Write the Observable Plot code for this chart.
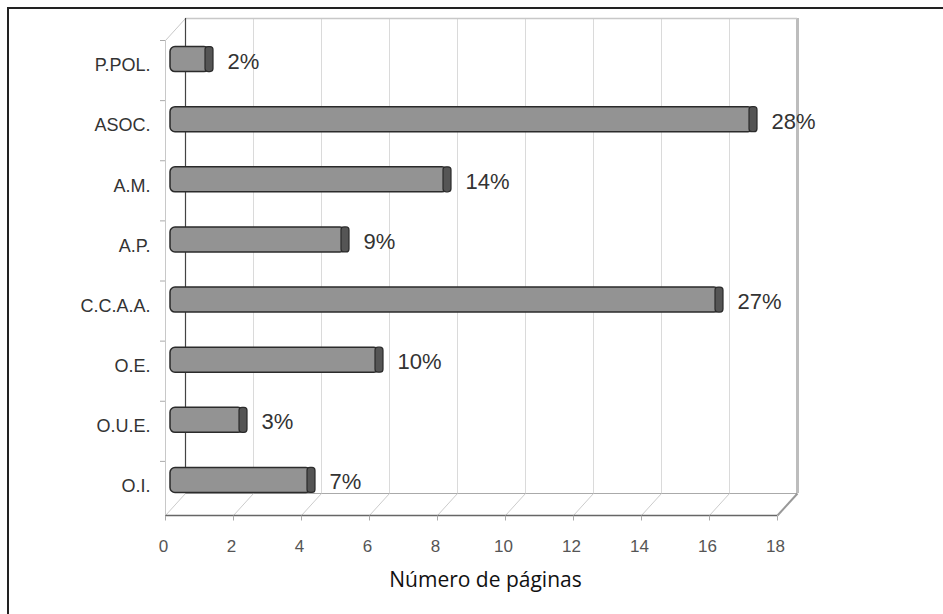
<!DOCTYPE html>
<html>
<head>
<meta charset="utf-8">
<script src="https://cdn.jsdelivr.net/npm/d3@7"></script>
<script src="https://cdn.jsdelivr.net/npm/@observablehq/plot@0.6"></script>
<style>
  html, body { margin: 0; padding: 0; background: #fff; }
  #frame { position: absolute; left: 7px; top: 7px; width: 936px; height: 607px;
           border-top: 2px solid #222; border-left: 2px solid #222; box-sizing: border-box; }
  #chart { position: absolute; left: 0; top: 0; }
</style>
</head>
<body>
<div id="frame"></div>
<div id="chart"></div>
<script>
// ---- data ----
const categories = ["P.POL.", "ASOC.", "A.M.", "A.P.", "C.C.A.A.", "O.E.", "O.U.E.", "O.I."];
const values = [1, 17, 8, 5, 16, 6, 2, 4];
const percentLabels = ["2%", "28%", "14%", "9%", "27%", "10%", "3%", "7%"];
const xTicks = [0, 2, 4, 6, 8, 10, 12, 14, 16, 18];
const xTitle = "Número de páginas";

const rows = categories.map((c, i) => ({cat: c, idx: i, value: values[i], label: percentLabels[i]}));

// layout
const W = 943, H = 614;
const xDom = [0, 18], yDom = [-0.5, 7.4];
const xRange = [175, 787], yRange = [29, 504];
const kx = (xRange[1] - xRange[0]) / (xDom[1] - xDom[0]);
const ky = (yRange[1] - yRange[0]) / (yDom[1] - yDom[0]);
const DPX = 10, DPY = 11;             // half depth in pixels
const DX = DPX / kx, DY = DPY / ky;   // half depth in data units
const half = 12.5 / ky;               // bar half thickness
const yTop = yDom[0], yFloor = yDom[1];
const boundaries = d3.range(categories.length + 1).map(i => i - 0.5).filter(v => v <= yFloor);
const font = "'Liberation Sans', Arial, sans-serif";

const chart = Plot.plot({
  width: W, height: H,
  marginLeft: xRange[0], marginRight: W - xRange[1],
  marginTop: yRange[0], marginBottom: H - yRange[1],
  x: {domain: xDom, range: xRange, axis: null},
  y: {domain: yDom, range: yRange, axis: null},
  style: {fontFamily: font, background: "transparent"},
  marks: [
    // back wall grid
    Plot.ruleX(xTicks.filter(t => t > 0 && t < 18), {x: d => d, y1: yTop, y2: yFloor, dx: DPX, dy: -DPY, stroke: "#dadada", strokeWidth: 1}),
    Plot.ruleX([xDom[1]], {x: d => d, y1: yTop, y2: yFloor, dx: DPX, dy: -DPY, stroke: "#bdbdbd", strokeWidth: 3}),
    Plot.ruleY([yTop], {y: d => d, x1: xDom[0], x2: xDom[1], dx: DPX, dy: -DPY, stroke: "#c8c8c8", strokeWidth: 1.5}),
    // floor
    Plot.ruleY([yFloor], {y: d => d, x1: xDom[0], x2: xDom[1], dx: DPX, dy: -DPY, stroke: "#aaa", strokeWidth: 1}),
    Plot.link(xTicks, {x1: d => d - DX, y1: yFloor + DY, x2: d => d + DX, y2: yFloor - DY, stroke: d => d === 18 ? "#999" : "#ccc", strokeWidth: d => d === 18 ? 2 : 1}),
    Plot.ruleY([yFloor], {y: d => d, x1: xDom[0], x2: xDom[1], dx: -DPX, dy: DPY, stroke: "#666", strokeWidth: 1.5}),
    // left wall
    Plot.ruleX([xDom[0]], {x: d => d, y1: yTop, y2: yFloor, dx: -DPX, dy: DPY, stroke: "#c8c8c8", strokeWidth: 1}),
    Plot.link([yTop], {x1: -DX, y1: d => d + DY, x2: DX, y2: d => d - DY, stroke: "#c8c8c8"}),
    Plot.ruleY(boundaries, {y: d => d + DY, x1: -DX - 5 / kx, x2: -DX, stroke: "#aaa"}),
    // x axis ticks and labels (front edge)
    Plot.link(xTicks, {x1: d => d - DX, x2: d => d - DX, y1: yFloor + DY, y2: yFloor + DY + 5 / ky, stroke: "#aaa"}),
    Plot.text(xTicks, {x: d => d, y: yFloor, text: d => String(d), dx: -DPX - 2, dy: DPY + 31, fontSize: 17, fill: "#555"}),
    Plot.text([xTitle], {x: (xDom[0] + xDom[1]) / 2, y: yFloor, text: d => d, dx: 4, dy: 76, fontSize: 21, fill: "#111", fontFamily: "'Open Sans', 'Noto Sans', sans-serif"}),
    // back-left vertical (dark, behind bars)
    Plot.ruleX([xDom[0]], {x: d => d, y1: yTop, y2: yFloor, dx: DPX, dy: -DPY, stroke: "#444", strokeWidth: 1.2}),
    // bars
    Plot.rect(rows, {x1: 0, x2: "value", y1: d => d.idx - half, y2: d => d.idx + half, insetLeft: -5, fill: "#939393", stroke: "#2b2b2b", strokeWidth: 1.5, rx: 5}),
    Plot.rect(rows, {x1: "value", x2: "value", y1: d => d.idx - half, y2: d => d.idx + half, insetLeft: -4, insetRight: -4, fill: "#555", stroke: "#2b2b2b", strokeWidth: 1.2, rx: 3}),
    // value labels
    Plot.text(rows, {x: "value", y: "idx", text: "label", dx: 18, dy: 2, textAnchor: "start", fontSize: 22, fill: "#333"}),
    // category labels
    Plot.text(rows, {x: 0, y: "idx", text: "cat", dx: -25, dy: 6, textAnchor: "end", fontSize: 18, fill: "#333"})
  ]
});
document.getElementById("chart").append(chart);
</script>
</body>
</html>
